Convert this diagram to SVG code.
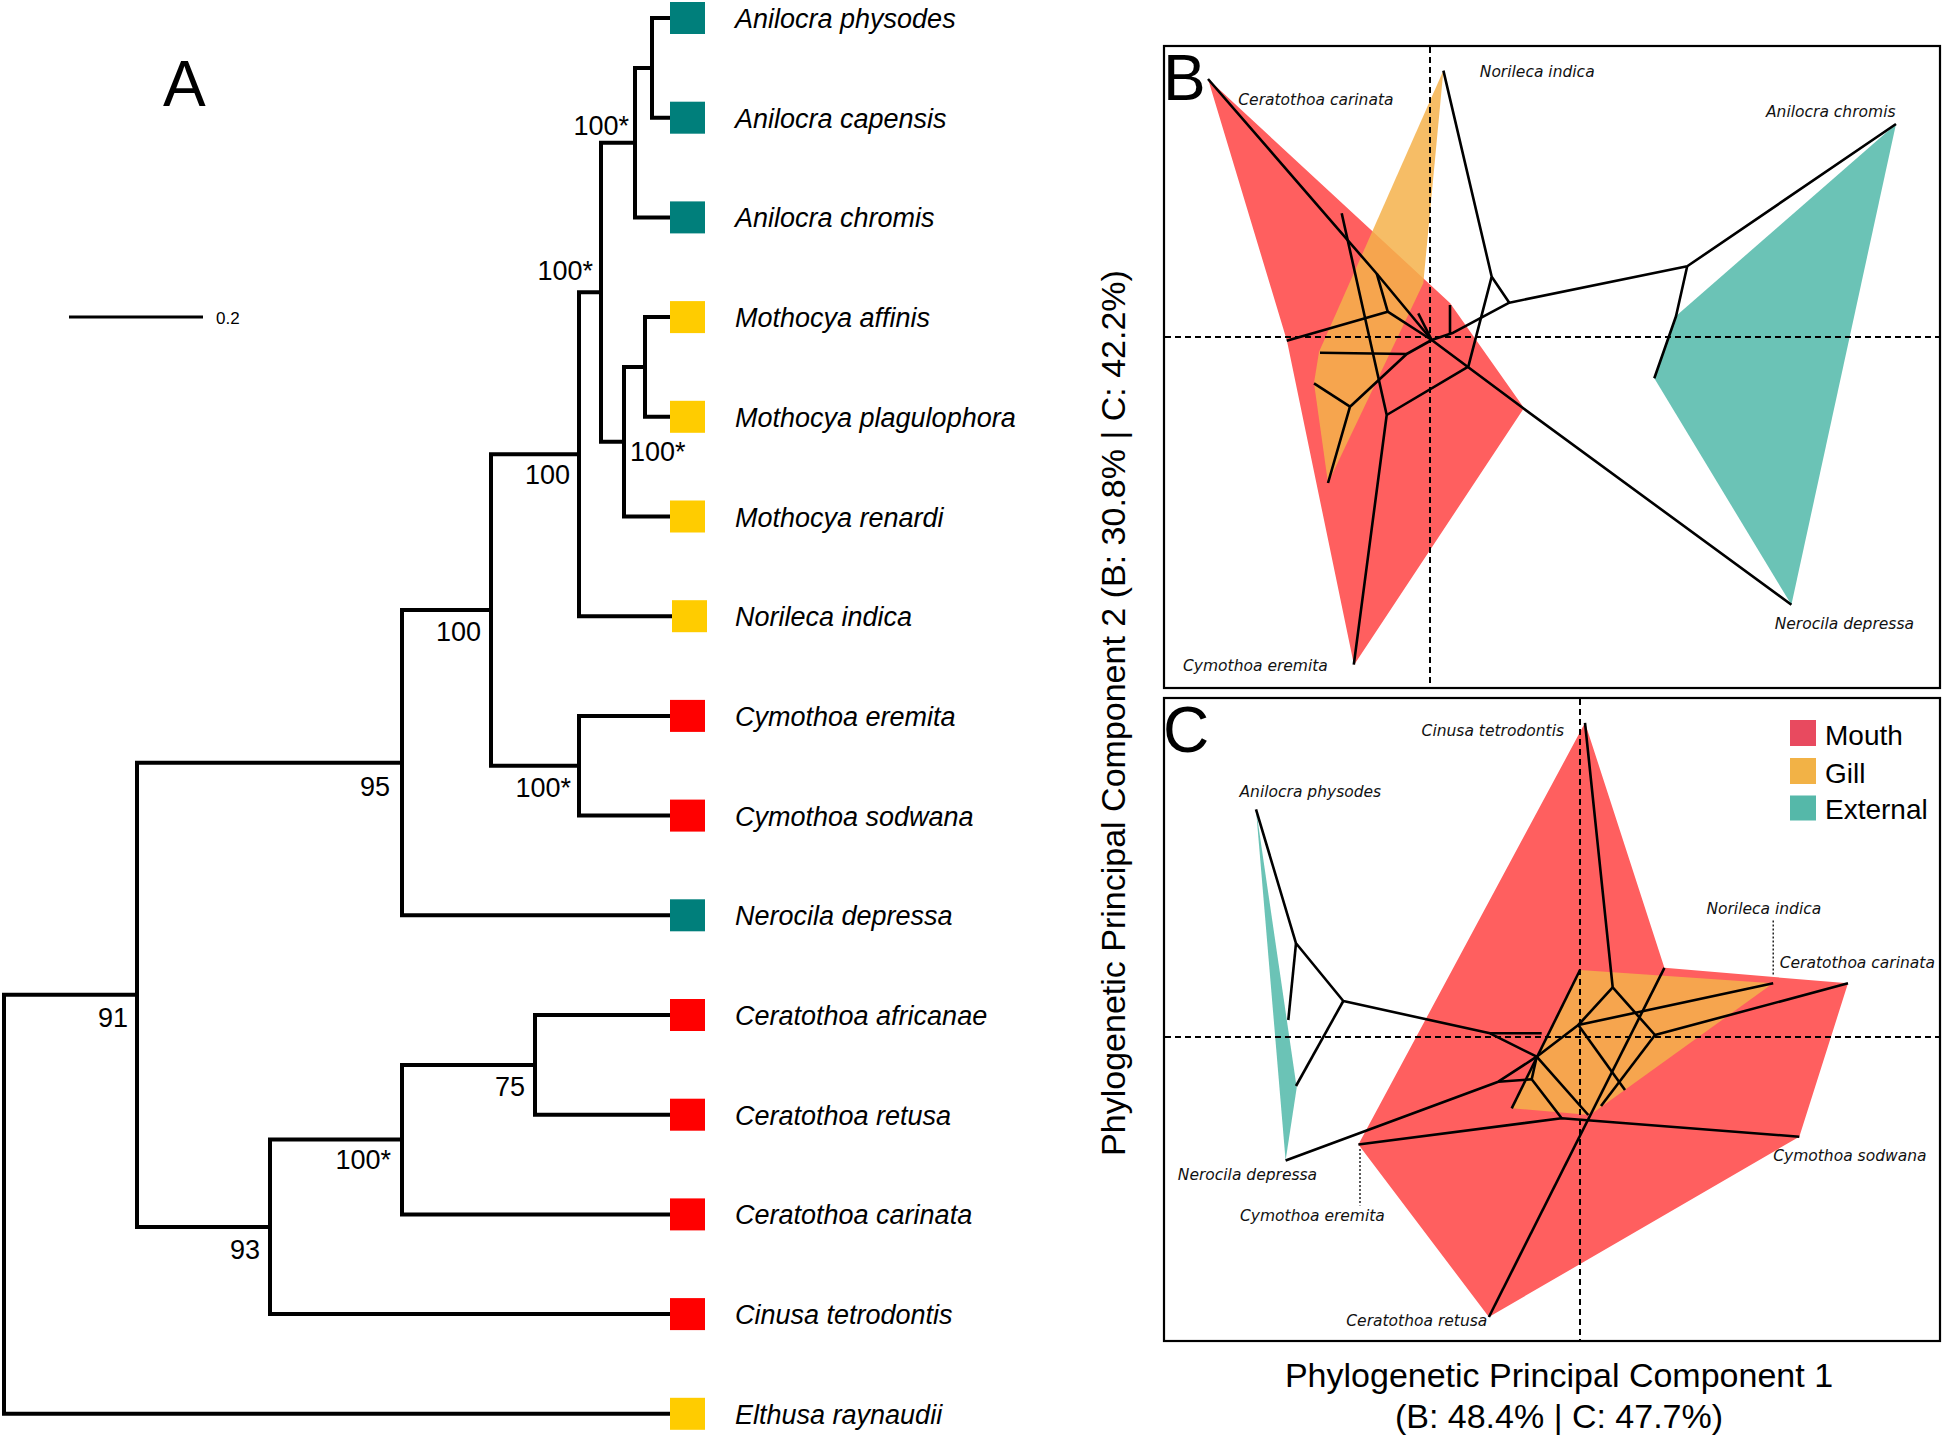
<svg xmlns="http://www.w3.org/2000/svg" width="1943" height="1437" viewBox="0 0 1943 1437">
<defs>
<style>
.br{fill:none;stroke:#000;stroke-width:4;stroke-linecap:square;stroke-linejoin:miter}
.sp{font-family:"Liberation Sans",Arial,sans-serif;font-style:italic;font-size:27px;fill:#000}
.bs{font-family:"Liberation Sans",Arial,sans-serif;font-size:27px;fill:#000}
.big{font-family:"Liberation Sans",Arial,sans-serif;font-size:64px;fill:#000}
.ax{font-family:"Liberation Sans",Arial,sans-serif;font-size:34px;fill:#000}
.lg{font-family:"Liberation Sans",Arial,sans-serif;font-size:28px;fill:#000}
.pl{font-family:"DejaVu Sans",sans-serif;font-style:oblique;font-size:15.5px;fill:#111}
.tl{fill:none;stroke:#000;stroke-width:2.6;stroke-linecap:butt;stroke-linejoin:round}
.ds{fill:none;stroke:#000;stroke-width:2;stroke-dasharray:6 4}
.ld{fill:none;stroke:#000;stroke-width:1.3;stroke-dasharray:2 2}
.box{fill:none;stroke:#000;stroke-width:2.2}
.teal{fill:#007f7b}.yel{fill:#ffcc00}.red{fill:#ff0000}
.mouth{fill:#ff5f5f}.gill{fill:#f4b24b;fill-opacity:.85}.ext{fill:#6bc3b6}
</style>
</defs>
<rect width="1943" height="1437" fill="#fff"/>

<!-- Panel A: tree -->
<text class="big" x="163" y="106" font-size="65">A</text>
<g id="scalebar">
<line x1="69" y1="317" x2="203" y2="317" stroke="#000" stroke-width="3"/>
<text x="216" y="324" font-family="Liberation Sans,Arial,sans-serif" font-size="17">0.2</text>
</g>

<g id="tree-connectors" class="br">
<path d="M670 18 H652 V117.7 H670"/>
<path d="M652 68 H635 V217.4 H670"/>
<path d="M670 317.1 H645 V416.8 H670"/>
<path d="M645 367 H624 V516.5 H670"/>
<path d="M635 142.7 H601 V441.7 H624"/>
<path d="M601 292.2 H579 V616.2 H670"/>
<path d="M670 715.9 H579 V815.6 H670"/>
<path d="M579 454.2 H491 V765.8 H579"/>
<path d="M491 610 H402 V915.3 H670"/>
<path d="M670 1015 H535 V1114.7 H670"/>
<path d="M535 1064.9 H402 V1214.4 H670"/>
<path d="M402 1139.6 H270 V1314.1 H670"/>
<path d="M402 762.7 H137 V1226.9 H270"/>
<path d="M137 994.8 H4 V1413.8 H670"/>
</g>

<g id="support-values" class="bs">
<text x="629" y="134.5" text-anchor="end">100*</text>
<text x="593" y="280" text-anchor="end">100*</text>
<text x="630" y="460.5">100*</text>
<text x="570" y="483.5" text-anchor="end">100</text>
<text x="481" y="640.5" text-anchor="end">100</text>
<text x="390" y="795.5" text-anchor="end">95</text>
<text x="571" y="796.5" text-anchor="end">100*</text>
<text x="128" y="1026.5" text-anchor="end">91</text>
<text x="525" y="1096" text-anchor="end">75</text>
<text x="391" y="1169" text-anchor="end">100*</text>
<text x="260" y="1258.5" text-anchor="end">93</text>
</g>

<g id="leaf-anilocra-physodes"><rect class="teal" x="670" y="2" width="35" height="32"/><text class="sp" x="735" y="28">Anilocra physodes</text></g>
<g id="leaf-anilocra-capensis"><rect class="teal" x="670" y="101.7" width="35" height="32"/><text class="sp" x="735" y="127.7">Anilocra capensis</text></g>
<g id="leaf-anilocra-chromis"><rect class="teal" x="670" y="201.4" width="35" height="32"/><text class="sp" x="735" y="227.4">Anilocra chromis</text></g>
<g id="leaf-mothocya-affinis"><rect class="yel" x="670" y="301.1" width="35" height="32"/><text class="sp" x="735" y="327.1">Mothocya affinis</text></g>
<g id="leaf-mothocya-plagulophora"><rect class="yel" x="670" y="400.8" width="35" height="32"/><text class="sp" x="735" y="426.8">Mothocya plagulophora</text></g>
<g id="leaf-mothocya-renardi"><rect class="yel" x="670" y="500.5" width="35" height="32"/><text class="sp" x="735" y="526.5">Mothocya renardi</text></g>
<g id="leaf-norileca-indica"><rect class="yel" x="672" y="600.2" width="35" height="32"/><text class="sp" x="735" y="626.2">Norileca indica</text></g>
<g id="leaf-cymothoa-eremita"><rect class="red" x="670" y="699.9" width="35" height="32"/><text class="sp" x="735" y="725.9">Cymothoa eremita</text></g>
<g id="leaf-cymothoa-sodwana"><rect class="red" x="670" y="799.6" width="35" height="32"/><text class="sp" x="735" y="825.6">Cymothoa sodwana</text></g>
<g id="leaf-nerocila-depressa"><rect class="teal" x="670" y="899.3" width="35" height="32"/><text class="sp" x="735" y="925.3">Nerocila depressa</text></g>
<g id="leaf-ceratothoa-africanae"><rect class="red" x="670" y="999" width="35" height="32"/><text class="sp" x="735" y="1025">Ceratothoa africanae</text></g>
<g id="leaf-ceratothoa-retusa"><rect class="red" x="670" y="1098.7" width="35" height="32"/><text class="sp" x="735" y="1124.7">Ceratothoa retusa</text></g>
<g id="leaf-ceratothoa-carinata"><rect class="red" x="670" y="1198.4" width="35" height="32"/><text class="sp" x="735" y="1224.4">Ceratothoa carinata</text></g>
<g id="leaf-cinusa-tetrodontis"><rect class="red" x="670" y="1298.1" width="35" height="32"/><text class="sp" x="735" y="1324.1">Cinusa tetrodontis</text></g>
<g id="leaf-elthusa-raynaudii"><rect class="yel" x="670" y="1397.8" width="35" height="32"/><text class="sp" x="735" y="1423.8">Elthusa raynaudii</text></g>

<!-- Panel B -->
<g id="panel-B">
<polygon class="mouth" points="1208,79 1450,303 1524,408 1354,665 1287,341"/>
<polygon class="gill" points="1443.4,70.6 1423.3,283.3 1328,483 1314,383 1319,352"/>
<polygon class="ext" points="1896,124 1676,316 1654.3,378.3 1791.4,604.8"/>
<line class="ds" x1="1430" y1="47" x2="1430" y2="687"/>
<line class="ds" x1="1165" y1="337" x2="1939" y2="337"/>
<g class="tl">
<polyline points="1208,79 1377,274 1431.7,340 1523.3,408.3 1791.4,604.8"/>
<polyline points="1341.7,213.3 1386.7,415 1353.8,664.6"/>
<polyline points="1386.7,415 1468.3,366.7 1491.7,276.7 1443.4,70.6"/>
<polyline points="1491.7,276.7 1509.3,302.7 1687.2,266.3 1896,124"/>
<polyline points="1687.2,266.3 1676,316.3 1654.3,378.3"/>
<polyline points="1509.3,302.7 1453.3,332.7 1431.7,340 1406.7,354 1350,406.7 1328,483"/>
<polyline points="1350,406.7 1314,383.3"/>
<polyline points="1320,352.7 1406.7,354"/>
<polyline points="1286.7,340.7 1387.7,311.7 1376.7,273.3"/>
<polyline points="1387.7,311.7 1431.7,340"/>
<polyline points="1418.3,313.3 1431.7,340"/>
<polyline points="1450,305 1450,333.3"/>
</g>
<text class="pl" x="1479.8" y="77">Norileca indica</text>
<text class="pl" x="1238.3" y="105">Ceratothoa carinata</text>
<text class="pl" x="1766" y="117">Anilocra chromis</text>
<text class="pl" x="1774.7" y="629">Nerocila depressa</text>
<text class="pl" x="1183" y="671">Cymothoa eremita</text>
<rect class="box" x="1164" y="46" width="776" height="642"/>
<text class="big" x="1163" y="100">B</text>
</g>

<!-- Panel C -->
<g id="panel-C">
<polygon class="mouth" points="1585,722.8 1664.4,967.8 1848,983.3 1799.3,1136.7 1488.9,1317 1358.4,1144.5"/>
<polygon class="gill" points="1580,970 1773,983.3 1590,1115 1511.7,1108.3"/>
<polygon class="ext" points="1256,809.3 1296.7,1087.7 1285.6,1160.5"/>
<line class="ds" x1="1580" y1="699" x2="1580" y2="1340"/>
<line class="ds" x1="1165" y1="1037" x2="1939" y2="1037"/>
<line class="ld" x1="1773.2" y1="920.6" x2="1773.2" y2="976"/>
<line class="ld" x1="1360" y1="1149" x2="1360" y2="1205.6"/>
<g class="tl">
<polyline points="1585,722.8 1612.7,987.3 1655,1035 1848,983.3"/>
<polyline points="1612.7,987.3 1578.3,1025 1773.2,983.3"/>
<polyline points="1578.3,1025 1625,1090"/>
<polyline points="1655,1035 1601,1106"/>
<polyline points="1578.3,1025 1536.7,1056.7 1588.3,1115"/>
<polyline points="1536.7,1056.7 1490,1033.3 1343.3,1001 1296,943.3 1256,809.3"/>
<polyline points="1296,943.3 1288.3,1020"/>
<polyline points="1343.3,1001 1296,1086"/>
<polyline points="1490,1033.3 1541.7,1033.3"/>
<polyline points="1580,970 1511.7,1108.3"/>
<polyline points="1285.6,1160.5 1498.3,1081.7 1536.7,1056.7"/>
<polyline points="1498.3,1081.7 1531.7,1079.3 1561.7,1118.3"/>
<polyline points="1531.7,1079.3 1536.7,1056.7"/>
<polyline points="1358.4,1144.5 1561.7,1118.3 1799.3,1136.7"/>
<polyline points="1664.4,967.8 1488.9,1317"/>
</g>
<text class="pl" x="1421.6" y="735.5">Cinusa tetrodontis</text>
<text class="pl" x="1239.5" y="797">Anilocra physodes</text>
<text class="pl" x="1706.4" y="914.3">Norileca indica</text>
<text class="pl" x="1779.7" y="967.8">Ceratothoa carinata</text>
<text class="pl" x="1177.8" y="1180.3">Nerocila depressa</text>
<text class="pl" x="1240" y="1221.1">Cymothoa eremita</text>
<text class="pl" x="1773.2" y="1160.5">Cymothoa sodwana</text>
<text class="pl" x="1346.3" y="1325.5">Ceratothoa retusa</text>
<g id="legend">
<rect x="1790" y="720" width="26" height="26" fill="#e84a5f"/>
<text class="lg" x="1825" y="745">Mouth</text>
<rect x="1790" y="758" width="26" height="26" fill="#f2b246"/>
<text class="lg" x="1825" y="782.5">Gill</text>
<rect x="1790" y="795.5" width="26" height="25" fill="#55b8a9"/>
<text class="lg" x="1825" y="819">External</text>
</g>
<rect class="box" x="1164" y="698" width="776" height="643"/>
<text class="big" x="1163" y="752">C</text>
</g>

<g id="axis-labels">
<text class="ax" x="1559" y="1387" text-anchor="middle">Phylogenetic Principal Component 1</text>
<text class="ax" x="1559" y="1428" text-anchor="middle">(B: 48.4% | C: 47.7%)</text>
<text class="ax" transform="translate(1125,713) rotate(-90)" text-anchor="middle">Phylogenetic Principal Component 2 (B: 30.8% | C: 42.2%)</text>
</g>
</svg>
